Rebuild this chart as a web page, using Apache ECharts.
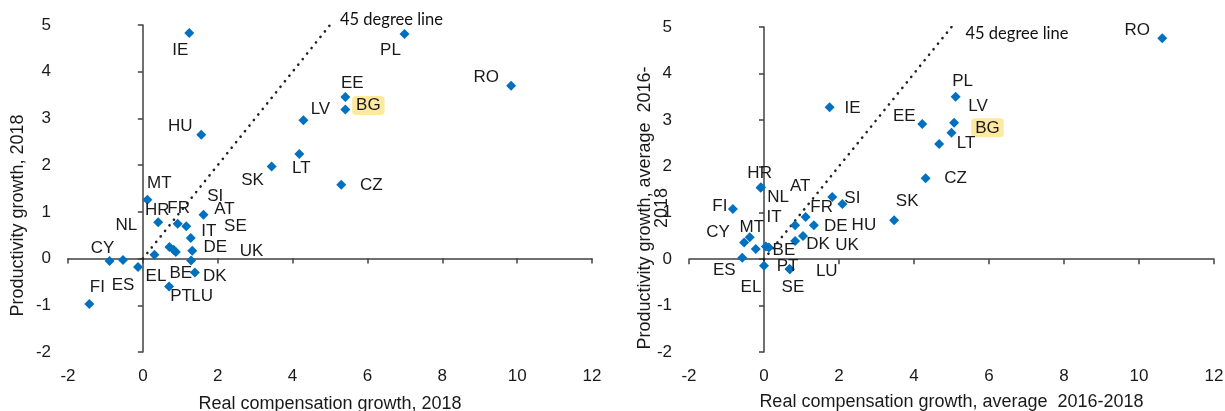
<!DOCTYPE html>
<html>
<head>
<meta charset="utf-8">
<script src="https://cdn.jsdelivr.net/npm/echarts@6/dist/echarts.min.js"></script>
<style>
  html, body { margin: 0; padding: 0; background: #ffffff; }
  #chart { width: 1225px; height: 411px; }
</style>
</head>
<body>
<div id="chart"></div>
<script>
// ---- Panel 1: year 2018 ----
const countries2018 = ['IE','PL','RO','EE','BG','HU','LV','LT','SK','CZ',
  'MT','HR','FR','SI','AT','IT','NL','SE','UK','BE','DE','LU','DK','PT','EL','ES','CY','FI'];
const compensation2018 = [1.24, 6.99, 9.84, 5.41, 5.41, 1.56, 4.29, 4.18, 3.44, 5.30,
  0.12, 0.41, 0.93, 1.16, 1.62, 1.28, 0.31, 0.71, 0.82, 0.88, 1.32, 1.29, 1.39, 0.70, -0.13, -0.53, -0.89, -1.43];
const productivity2018 = [4.83, 4.81, 3.70, 3.46, 3.19, 2.65, 2.96, 2.24, 1.97, 1.58,
  1.26, 0.78, 0.745, 0.69, 0.94, 0.44, 0.08, 0.25, 0.19, 0.14, 0.17, -0.04, -0.30, -0.60, -0.18, -0.03, -0.05, -0.97];

// ---- Panel 2: average 2016-2018 ----
const countriesAvg = ['IE','EE','PL','LV','BG','LT','CZ','SK','RO',
  'HR','NL','FI','AT','SI','FR','DE','IT','DK','UK','HU','MT','CY','BE','LU','ES','EL','PT','SE'];
const compensationAvg = [1.75, 4.22, 5.11, 5.07, 5.00, 4.67, 4.31, 3.47, 10.62,
  -0.09, -0.08, -0.83, 1.82, 2.09, 1.11, 1.33, 0.83, 1.04, 0.83, 0.05, -0.38, -0.53, 0.13, -0.22, -0.58, 0.00, 0.68, 0.69];
const productivityAvg = [3.27, 2.91, 3.50, 2.94, 2.72, 2.48, 1.74, 0.84, 4.76,
  1.54, 1.55, 1.08, 1.34, 1.19, 0.91, 0.73, 0.73, 0.50, 0.39, 0.27, 0.47, 0.36, 0.25, 0.22, 0.03, -0.14, -0.21, -0.22];

// Axis ranges and the 45-degree reference line
const xRange = { min: -2, max: 12, step: 2 };
const yRange = { min: -2, max: 5, step: 1 };
const diagonal = [[0, 0], [5, 5]];
const highlighted = 'BG';

// Label nudges in pixels (label centre relative to its marker)
const labelNudge2018 = {
  IE: [-9, 17], PL: [-14, 16], RO: [-25, -8], EE: [7, -14], BG: [23, -4], HU: [-21, -8],
  LV: [17, -11], LT: [2, 14], SK: [-19, 14], CZ: [30, 1], MT: [12, -16], HR: [-1, -12],
  FR: [1, -15], SI: [29, -30], AT: [21, -5], IT: [18, -7], NL: [-28, -30], SE: [66, -21],
  UK: [78, 2], BE: [5, 21], DE: [23, -3], LU: [11, 36], DK: [20, 4], PT: [12, 10],
  EL: [18, 9], ES: [0, 25], CY: [-7, -13], FI: [8, -17]
};
const labelNudgeAvg = {
  IE: [23, 1], EE: [-18, -8], PL: [7, -15], LV: [24, -16], BG: [36, -5], LT: [27, -1],
  CZ: [30, 0], SK: [13, -19], RO: [-25, -8], HR: [-1, -14], NL: [17, 10], FI: [-13, -3],
  AT: [-32, -11], SI: [10, -6], FR: [16, -10], DE: [22, 1], IT: [-21, -8], DK: [15, 8],
  UK: [52, 4], HU: [98, -21], MT: [2, -10], CY: [-26, -10], BE: [15, 3], LU: [71, 22],
  ES: [-18, 13], EL: [-13, 22], PT: [-2, -3], SE: [3, 18]
};

const FONT = '"Liberation Sans", Arial, sans-serif';
const TEXT = '#1a1a1a';
const AXIS = '#404040';

function labelAxisX(grid, name, gap) {
  return {
    gridIndex: grid, type: 'value', min: xRange.min, max: xRange.max, interval: xRange.step,
    position: 'bottom',
    axisLine: { show: false, onZero: false }, axisTick: { show: false }, splitLine: { show: false },
    axisLabel: { margin: 16, fontSize: 17, color: TEXT, fontFamily: FONT },
    name: name, nameLocation: 'middle', nameGap: gap, nameMoveOverlap: false,
    nameTextStyle: { fontSize: 18, color: TEXT, fontFamily: FONT }
  };
}
function lineAxisX(grid) {
  return {
    gridIndex: grid, type: 'value', min: xRange.min, max: xRange.max, interval: xRange.step,
    position: 'bottom',
    axisLine: { show: true, onZero: true, lineStyle: { color: AXIS, width: 1.5 } },
    axisTick: { show: true, length: 5, lineStyle: { color: AXIS, width: 1.5 } },
    axisLabel: { show: false }, splitLine: { show: false }
  };
}
function labelAxisY(grid, name, gap, pad, lineH) {
  return {
    gridIndex: grid, type: 'value', min: yRange.min, max: yRange.max, interval: yRange.step,
    position: 'left',
    axisLine: { show: false, onZero: false }, axisTick: { show: false }, splitLine: { show: false },
    axisLabel: { margin: 17, fontSize: 17, color: TEXT, fontFamily: FONT },
    name: name, nameLocation: 'middle', nameGap: gap, nameRotate: 90, nameMoveOverlap: false,
    nameTextStyle: { fontSize: 18, color: TEXT, fontFamily: FONT, padding: [0, pad, 0, 0], lineHeight: lineH }
  };
}
function lineAxisY(grid) {
  return {
    gridIndex: grid, type: 'value', min: yRange.min, max: yRange.max, interval: yRange.step,
    position: 'left',
    axisLine: { show: true, onZero: true, lineStyle: { color: AXIS, width: 1.5 } },
    axisTick: { show: true, length: 5, lineStyle: { color: AXIS, width: 1.5 } },
    axisLabel: { show: false }, splitLine: { show: false }
  };
}

function countrySeries(names, xs, ys, nudge, axisIdx) {
  return {
    type: 'scatter', xAxisIndex: axisIdx, yAxisIndex: axisIdx,
    symbol: 'diamond', symbolSize: 10, z: 4,
    itemStyle: { color: '#0070C0', opacity: 1 },
    label: {
      show: true, position: 'inside', formatter: p => p.name,
      color: TEXT, fontSize: 17, fontFamily: FONT,
      textBorderWidth: 0, textBorderColor: 'transparent'
    },
    emphasis: { disabled: true },
    data: names.map((n, i) => {
      const lbl = { offset: nudge[n] };
      if (n === highlighted) {
        lbl.backgroundColor = '#FDE9A2';
        lbl.borderRadius = 4;
        lbl.padding = [1, 4];
      }
      return { name: n, value: [xs[i], ys[i]], label: lbl };
    })
  };
}

function diagonalSeries(axisIdx, labelOffset) {
  return {
    type: 'line', xAxisIndex: axisIdx, yAxisIndex: axisIdx, z: 3,
    data: diagonal, symbol: 'none', silent: true,
    lineStyle: { color: '#222222', width: 2.6, type: [0.1, 7], cap: 'round' },
    endLabel: {
      show: true, formatter: '45 degree line', offset: labelOffset,
      fontFamily: 'Lato, "Open Sans", sans-serif', fontSize: 16.5, color: '#111111',
      textBorderWidth: 0
    }
  };
}

const chart = echarts.init(document.getElementById('chart'), null, { renderer: 'canvas' });
chart.setOption({
  animation: false,
  backgroundColor: '#ffffff',
  grid: [
    { left: 68, top: 25, width: 524, height: 327, outerBoundsMode: 'none' },
    { left: 689, top: 27, width: 525, height: 325, outerBoundsMode: 'none' }
  ],
  xAxis: [
    labelAxisX(0, 'Real compensation growth, 2018', 43),
    lineAxisX(0),
    labelAxisX(1, 'Real compensation growth, average  2016-2018', 41),
    lineAxisX(1)
  ],
  yAxis: [
    labelAxisY(0, 'Productivity growth, 2018', 40, 54, 20),
    lineAxisY(0),
    labelAxisY(1, 'Productivity growth, average  2016-\n2018', 18, 37, 17),
    lineAxisY(1)
  ],
  series: [
    diagonalSeries(0, [2, -5]),
    countrySeries(countries2018, compensation2018, productivity2018, labelNudge2018, 0),
    diagonalSeries(2, [6, 7]),
    countrySeries(countriesAvg, compensationAvg, productivityAvg, labelNudgeAvg, 2)
  ]
});
</script>
</body>
</html>
